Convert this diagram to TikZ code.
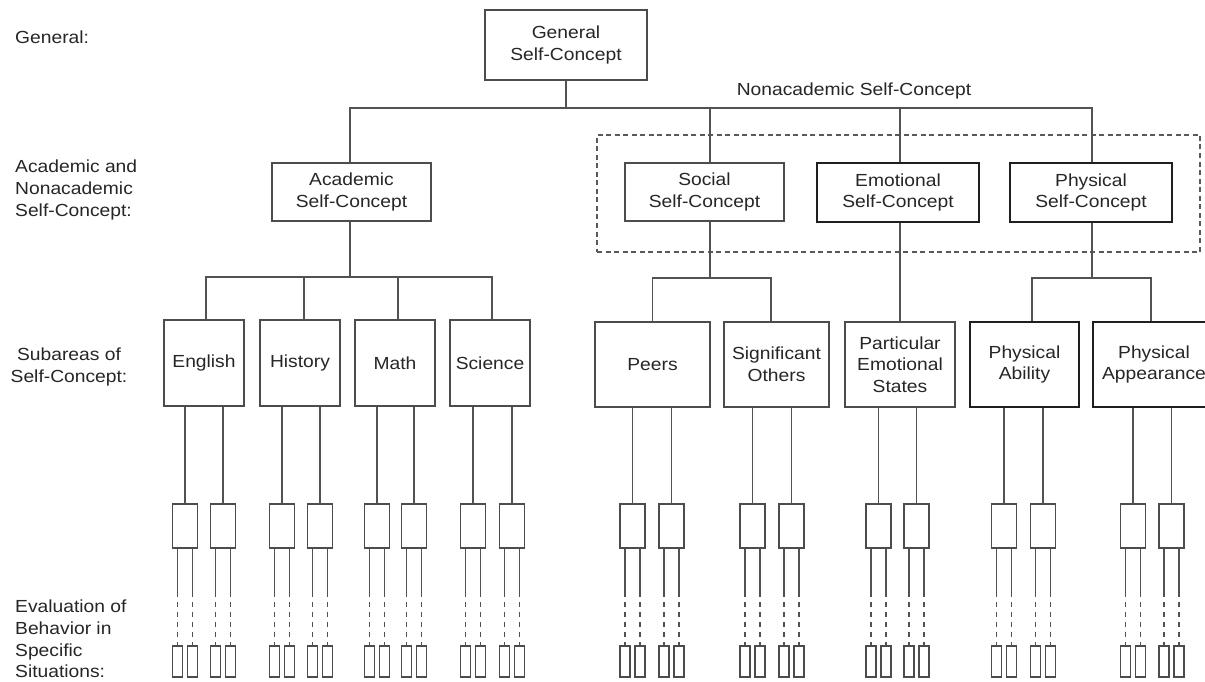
\documentclass[tikz,border=0pt]{standalone}
\usepackage{fontspec}
\setmainfont{Liberation Sans}[FakeStretch=1.1]
\begin{document}
\begin{tikzpicture}[x=1pt,y=-1pt,
  every node/.style={font=\fontsize{17.5}{21.7}\selectfont, text=black!85},
  box/.style={draw=black!70, line width=1.45pt, inner sep=0pt, align=center},
  heavy/.style={box, draw=black!88, line width=1.9pt},
  conn/.style={draw=black!68, line width=1.4pt},
  dots/.style={conn, dash pattern=on 5pt off 5pt},
  lab/.style={align=left, anchor=west, inner sep=0pt}]
\useasboundingbox (0,0) rectangle (1205,682);
\fill[white] (0,0) rectangle (1205,682);

% left labels
\node[lab] (l1) at (15,37) {General:};
\node[lab] (l2) at (15,190) {Academic and\\Nonacademic\\Self-Concept:};
\node[align=center, inner sep=0pt] (l3) at (69,367) {Subareas of\\Self-Concept:};
\node[lab] (l4) at (15,639) {Evaluation of\\Behavior in\\Specific\\Situations:};

% top levels
\node[box, minimum width=162pt, minimum height=70pt] (gen) at (566,45) {General\\Self-Concept};
\node (nonlab) at (854,91) {Nonacademic Self-Concept};
\node[draw=black!65, line width=1.3pt, dash pattern=on 5pt off 3.5pt, minimum width=603pt, minimum height=117pt, inner sep=0pt] (nonbox) at (898.5,193.5) {};
\node[box, minimum width=159pt, minimum height=58pt] (acad) at (351.5,192) {Academic\\Self-Concept};
\node[box, minimum width=159pt, minimum height=58pt] (soc) at (704.5,192) {Social\\Self-Concept};
\node[heavy, minimum width=162pt, minimum height=59pt] (emo) at (898,192.5) {Emotional\\Self-Concept};
\node[heavy, minimum width=162pt, minimum height=59pt] (phys) at (1091,192.5) {Physical\\Self-Concept};

% subareas
\node[box, minimum width=80pt, minimum height=86pt] (eng) at (204,363) {English};
\node[box, minimum width=80pt, minimum height=86pt] (his) at (300,363) {History};
\node[box, minimum width=80pt, minimum height=86pt] (mat) at (395,363) {Math};
\node[box, minimum width=80pt, minimum height=86pt] (sci) at (490,363) {Science};
\node[box, minimum width=115pt, minimum height=85pt] (peer) at (652.5,364.5) {Peers};
\node[box, minimum width=105pt, minimum height=85pt] (sig) at (776.5,364.5) {Significant\\Others};
\node[box, minimum width=110pt, minimum height=85pt] (part) at (900,364.5) {Particular\\Emotional\\States};
\node[heavy, minimum width=109pt, minimum height=85pt] (abil) at (1024.5,364.5) {Physical\\Ability};
\node[heavy, minimum width=122pt, minimum height=85pt] (appr) at (1154,364.5) {Physical\\Appearance};

% connectors, top
\coordinate (j0) at (566,108);
\draw[conn] (gen.south) -- (j0);
\draw[conn] ([xshift=-1.5pt]acad.north) |- (j0) -| ([xshift=1pt]phys.north);
\draw[conn] ([xshift=5.5pt]soc.north) -- ([xshift=5.5pt]soc.north |- j0);
\draw[conn] ([xshift=2pt]emo.north) -- ([xshift=2pt]emo.north |- j0);

% academic branch
\coordinate (j1) at (350,277);
\draw[conn] ([xshift=-1.5pt]acad.south) -- (j1);
\draw[conn] ([xshift=2pt]eng.north) |- (j1) -| ([xshift=2pt]sci.north);
\draw[conn] ([xshift=4pt]his.north) -- ([xshift=4pt]his.north |- j1);
\draw[conn] ([xshift=3pt]mat.north) -- ([xshift=3pt]mat.north |- j1);

% social branch
\coordinate (j2) at (710,278);
\draw[conn] ([xshift=5.5pt]soc.south) -- (j2);
\draw[conn] (peer.north) |- (j2) -| ([xshift=-5.5pt]sig.north);

% emotional branch
\draw[conn] (emo.south -| part.north) -- (part.north);

% physical branch
\coordinate (j3) at (1092,278);
\draw[conn] ([xshift=1pt]phys.south) -- (j3);
\draw[conn] ([xshift=7.5pt]abil.north) |- (j3) -| ([xshift=-3pt]appr.north);

% specific situations
\foreach \p/\x/\n in {eng/185/1, eng/223/2, his/282/3, his/320/4, mat/377/5, mat/414/6, sci/473/7, sci/512/8, peer/632.5/9, peer/671.5/10, sig/752.5/11, sig/791.5/12, part/878.5/13, part/916.5/14, abil/1004/15, abil/1043/16, appr/1133/17, appr/1171.5/18} {
  \node[box, minimum width=25pt, minimum height=44pt] (s\n) at (\x,526) {};
  \node[box, minimum width=10pt, minimum height=31pt] (tl\n) at (\x-7.5,661.5) {};
  \node[box, minimum width=10pt, minimum height=31pt] (tr\n) at (\x+7.5,661.5) {};
  \draw[conn] (s\n.north) -- (s\n.north |- \p.south);
  \draw[conn] (tl\n.north |- s\n.south) -- (tl\n.north |- 0,597);
  \draw[dots] (tl\n.north |- 0,602) -- (tl\n.north);
  \draw[conn] (tr\n.north |- s\n.south) -- (tr\n.north |- 0,597);
  \draw[dots] (tr\n.north |- 0,602) -- (tr\n.north);
}
\end{tikzpicture}
\end{document}
